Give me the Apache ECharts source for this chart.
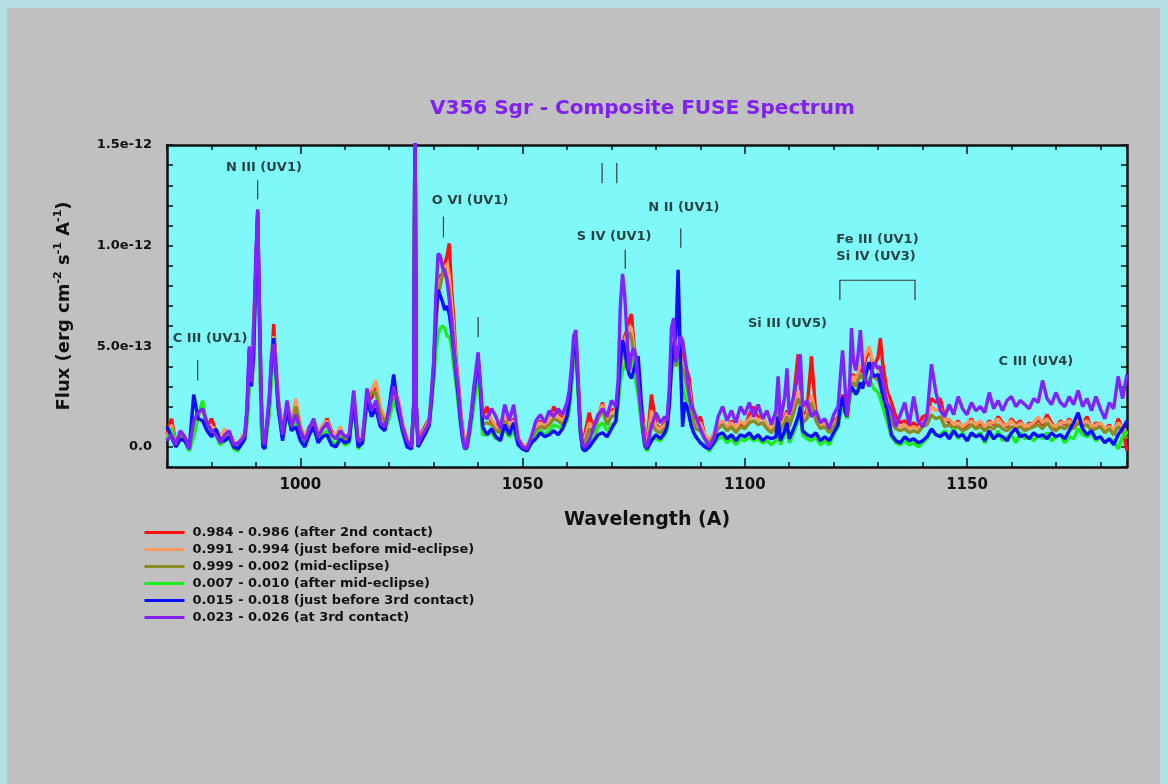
<!DOCTYPE html>
<html>
<head>
<meta charset="utf-8">
<script src="https://cdn.jsdelivr.net/npm/echarts@6/dist/echarts.min.js"></script>
<style>
html,body{margin:0;padding:0;}
body{width:1168px;height:784px;box-sizing:border-box;background:#c0c0c0;border-top:8px solid #b6dfe3;border-left:7px solid #b6dfe3;border-right:8px solid #b6dfe3;overflow:hidden;}
#chart{position:absolute;left:0;top:0;width:1168px;height:784px;}
</style>
</head>
<body>
<div id="chart"></div>
<script>
// Wavelength grid (Angstrom)
const wavelength = [
  970,971,972,973,974,975,976,977,978,979,980,981,982,983,984,985,986,987,
  987.5,988,988.5,989,989.5,990,990.4,990.8,991.2,991.6,992,993,993.5,994,994.5,995,996,
  997,998,999,1000,1001,1002,1003,1004,1005,1006,1007,1008,1009,1010,1011,1012,1013,1014,1015,1016,1017,1018,1019,1020,1021,1022,1023,1024,
  1025,1025.5,1025.8,1026.1,1026.5,1027,1028,1029,1029.5,1030,1030.5,1031,1031.5,1032,1032.5,1033,1033.5,1034,1034.5,1035,1035.5,1036,1036.5,1037,1037.5,1038,1038.5,1039,1039.5,1040,1040.5,1041,
  1042,1043,1044,1045,1046,1047,1048,1049,1050,1051,1052,1053,1054,1055,1056,1057,1058,1059,1060,
  1060.5,1061,1061.5,1062,1062.5,1063,1063.5,1064,1065,1066,1067,1068,1069,1070,1071,
  1071.5,1072,1072.5,1073,1073.5,1074,1074.5,1075,1075.5,1076,1076.5,1077,1077.5,1078,
  1079,1080,1081,1082,1082.5,1083,1083.5,1084,1084.5,1085,1085.5,1086,1086.5,1087,1087.5,1088,1088.5,1089,1090,
  1091,1092,1093,1094,1095,1096,1097,1098,1099,1100,1101,1102,1103,1104,1105,1106,1107,
  1107.5,1108,1109,1109.5,1110,1111,1112,1112.5,1113,1114,1115,1116,1117,1118,1119,
  1120,1121,1121.5,1122,1122.5,1123,1123.5,1124,1124.5,1125,1125.5,1126,1126.5,1127,1128,1129,1130,1130.5,1131,1132,1133,1134,1135,1136,1137,1138,1139,1140,1141,1142,1143,
  1144,1145,1146,1147,1148,1149,1150,1151,1152,1153,1154,1155,1156,1157,1158,1159,1160,1161,1162,1163,1164,1165,1166,1167,1168,1169,1170,1171,1172,1173,1174,1175,1176,1177,1178,1179,1180,1181,1182,1183,1184,1185,1186
];

// Flux in units of 1e-13 erg cm-2 s-1 A-1
const fluxRed = [
  0.6,1.4,0.2,0.5,0.4,0.0,0.8,1.6,2.0,1.0,1.4,0.8,0.4,0.6,0.7,0.2,0.0,0.5,
  0.6,1.5,3.5,4.0,6.1,9.0,11.6,6.5,1.5,0.3,0.2,2.0,4.0,6.1,4.2,2.4,0.8,
  2.0,1.2,2.2,1.0,0.4,1.0,1.2,0.6,1.0,1.4,0.8,0.5,0.9,0.4,0.5,2.5,0.2,0.5,2.5,2.4,3.0,1.5,1.3,1.6,2.5,2.0,1.1,0.4,
  0.1,2.0,17,2.0,0.2,0.6,1.0,1.4,2.6,4.0,6.5,8.0,8.5,8.6,9.1,9.5,10.1,7.9,6.5,4.5,3.3,2.0,0.9,0.2,0.2,0.9,1.7,2.7,3.6,4.3,3.0,1.4,
  2.0,1.2,1.1,0.8,1.4,1.0,1.4,0.4,0.1,0.0,0.5,0.9,1.3,1.0,1.2,2.0,1.6,1.4,1.8,
  2.3,3.6,5.0,5.4,3.2,0.9,0.2,0.6,1.7,0.8,1.5,2.2,1.2,1.8,1.9,
  2.8,4.2,5.0,5.5,5.8,6.3,6.6,5.3,4.2,3.6,2.5,1.7,0.6,0.2,
  2.6,1.1,0.9,1.2,1.3,2.5,4.5,5.2,4.6,5.0,4.8,4.4,4.2,3.8,3.4,2.4,1.6,1.2,1.5,
  0.6,0.3,0.6,1.0,1.2,0.9,1.3,0.8,1.2,1.0,1.6,2.0,1.4,1.6,1.0,0.8,1.2,
  2.5,0.9,1.5,1.8,1.2,2.5,4.6,3.0,1.5,1.8,4.5,1.6,1.0,1.3,0.8,
  1.2,1.5,2.0,2.6,2.2,1.8,2.8,3.5,3.6,3.3,3.6,4.0,3.7,4.2,4.9,3.9,4.5,5.4,4.2,2.8,2.2,1.5,1.2,1.3,1.0,1.2,1.0,1.5,1.6,2.4,2.2,
  2.4,1.4,1.2,1.0,1.3,0.9,1.1,1.4,1.0,1.2,0.9,1.3,1.1,1.5,1.2,1.0,1.4,1.1,1.3,0.9,1.2,1.0,1.4,1.1,1.6,1.2,0.9,1.3,1.1,1.4,1.0,1.3,1.1,1.5,0.9,1.2,1.0,0.8,1.1,0.6,1.4,0.9,-0.2
];
const fluxOrange = [
  0.5,1.1,0.2,0.6,0.5,0.0,0.7,1.5,2.1,1.1,1.0,0.9,0.5,0.9,0.6,0.3,0.1,0.6,
  0.6,1.4,3.3,3.8,5.6,8.8,11.4,6.3,1.4,0.3,0.2,1.9,3.8,5.5,4.0,2.3,0.9,
  1.9,1.3,2.4,1.1,0.5,0.9,1.3,0.7,1.1,1.3,0.7,0.6,1.0,0.5,0.6,2.3,0.3,0.6,2.4,2.8,3.3,2.0,1.4,1.7,2.6,2.5,1.2,0.5,
  0.1,2.0,17,2.0,0.2,0.5,0.9,1.3,2.5,3.9,6.5,8.0,8.3,8.5,8.9,9.1,8.5,7.2,5.8,4.2,3.0,1.8,0.8,0.1,0.1,0.8,1.6,2.6,3.5,4.2,2.9,1.4,
  1.6,1.4,1.0,0.9,1.5,1.1,1.3,0.5,0.1,0.0,0.6,1.0,1.2,1.1,1.3,1.7,1.5,1.3,1.7,
  2.2,3.4,4.8,5.2,3.1,0.9,0.2,0.4,1.2,0.9,1.6,2.1,1.3,1.7,1.8,
  2.7,4.0,4.8,5.3,5.6,6.0,5.9,5.0,4.0,3.4,2.2,1.3,0.4,0.1,
  1.8,1.0,0.9,1.1,1.2,2.3,4.2,4.9,4.3,4.7,4.5,4.1,3.9,3.4,2.9,2.0,1.4,1.1,1.2,
  0.6,0.3,0.7,1.1,1.3,1.0,1.2,0.9,1.3,1.1,1.4,1.6,1.3,1.5,1.1,0.9,1.2,
  2.2,1.0,1.4,1.7,1.2,2.0,2.8,2.4,1.4,1.6,2.6,1.5,1.1,1.2,0.9,
  1.1,1.4,1.9,2.5,2.1,1.7,2.7,3.4,3.5,3.3,3.7,4.1,4.0,4.5,5.0,4.0,3.9,3.6,3.2,2.4,1.6,1.2,1.0,1.1,0.9,1.0,0.9,1.2,1.4,2.0,1.8,
  1.9,1.3,1.4,1.1,1.2,1.0,1.2,1.3,1.1,1.3,1.0,1.2,1.2,1.4,1.1,1.1,1.3,1.0,1.2,1.0,1.1,1.2,1.5,1.2,1.4,1.1,1.0,1.2,1.2,1.3,1.1,1.4,1.2,1.3,1.0,1.1,1.2,0.9,1.0,0.8,1.2,1.0,0.6
];
const fluxOlive = [
  0.4,0.9,0.1,0.5,0.4,-0.1,0.6,1.5,2.2,1.0,0.8,0.7,0.3,0.5,0.5,0.1,0.0,0.4,
  0.5,1.3,3.1,3.5,5.2,8.5,11.2,6.0,1.2,0.1,0.0,1.8,3.6,4.8,3.7,2.1,0.6,
  1.8,1.1,2.0,0.9,0.3,0.8,1.1,0.5,0.9,1.1,0.6,0.4,0.8,0.3,0.4,2.2,0.1,0.4,2.3,2.7,2.7,1.7,1.2,1.5,2.4,2.0,1.0,0.3,
  0.0,2.0,17,2.0,0.1,0.4,0.8,1.2,2.4,3.7,6.0,7.6,8.0,8.6,8.9,8.2,7.8,6.5,5.4,3.9,2.8,1.6,0.6,0.0,0.0,0.7,1.5,2.5,3.3,4.0,2.7,1.1,
  1.2,1.1,0.8,0.7,1.3,0.9,1.1,0.3,0.0,-0.1,0.4,0.8,1.0,0.9,1.1,1.4,1.3,1.1,1.5,
  2.0,3.2,4.6,5.0,2.9,0.8,0.1,0.2,0.9,0.7,1.4,1.8,1.1,1.5,1.6,
  2.5,3.8,4.6,5.0,5.2,5.7,5.4,4.6,3.8,3.0,2.0,1.0,0.3,0.0,
  1.2,0.8,0.7,0.9,1.0,2.1,4.0,4.6,4.0,4.4,4.2,3.8,3.5,3.0,2.5,1.7,1.2,0.9,0.8,
  0.4,0.2,0.5,0.9,1.1,0.8,1.0,0.7,1.0,0.9,1.2,1.3,1.1,1.2,0.9,0.7,1.0,
  1.9,0.8,1.2,1.5,1.0,1.7,2.4,2.1,1.2,1.4,2.2,1.3,0.9,1.0,0.7,
  1.0,1.3,1.8,2.3,2.0,1.6,2.5,3.1,3.2,3.0,3.3,3.6,3.4,3.8,4.2,3.5,3.3,3.0,2.6,1.9,1.2,0.9,0.8,0.9,0.7,0.8,0.7,1.0,1.1,1.6,1.4,
  1.5,1.0,1.1,0.9,1.0,0.8,0.9,1.1,0.9,1.0,0.8,1.0,0.9,1.1,0.9,0.8,1.0,0.9,1.0,0.8,0.9,1.0,1.1,0.9,1.2,0.9,0.8,1.0,0.9,1.1,0.9,1.2,1.0,1.1,0.8,0.9,1.0,0.7,0.9,0.6,1.0,0.8,0.4
];
const fluxGreen = [
  0.4,0.9,0.0,0.4,0.3,-0.2,0.5,1.5,2.3,0.9,0.6,0.6,0.1,0.3,0.4,-0.1,-0.2,0.3,
  0.4,1.2,2.9,3.2,4.8,8.2,11.0,5.8,1.0,0.0,-0.1,1.6,3.4,4.5,3.5,1.9,0.4,
  1.6,0.8,1.4,0.6,0.1,0.6,0.9,0.3,0.6,0.8,0.3,0.1,0.5,0.1,0.2,2.1,-0.1,0.2,2.1,1.8,2.0,1.1,0.9,1.4,2.3,1.7,0.7,0.1,
  -0.1,2.0,17,2.0,0.0,0.3,0.6,1.0,2.1,3.2,4.8,5.6,5.9,6.0,5.9,5.5,5.5,5.0,4.0,3.2,2.2,1.2,0.4,-0.1,-0.1,0.5,1.2,2.0,2.8,3.5,2.4,0.6,
  0.6,0.7,0.4,0.4,0.9,0.5,0.8,0.1,-0.1,-0.2,0.2,0.5,0.8,0.6,0.8,1.1,1.0,0.9,1.3,
  1.8,3.0,4.4,4.8,2.7,0.6,-0.1,-0.1,0.4,0.4,1.0,1.2,0.8,1.1,1.2,
  2.0,3.2,3.8,4.0,4.4,4.6,4.3,3.8,3.2,2.6,1.6,0.7,0.0,-0.2,
  0.5,0.4,0.3,0.6,0.8,2.0,3.8,4.5,4.2,4.6,3.8,3.0,2.6,2.2,1.6,1.1,0.7,0.5,0.2,
  0.1,-0.2,0.1,0.4,0.5,0.2,0.4,0.1,0.4,0.3,0.5,0.3,0.4,0.2,0.3,0.1,0.3,
  1.3,0.1,0.6,1.0,0.2,0.7,1.3,1.6,0.6,0.4,0.3,0.5,0.1,0.3,0.1,
  0.6,1.0,1.6,2.1,1.7,1.4,2.2,2.8,2.9,2.6,2.9,3.2,3.0,3.3,3.4,2.9,2.7,2.4,2.0,1.3,0.5,0.2,0.1,0.3,0.1,0.2,0.0,0.2,0.4,0.8,0.6,
  0.6,0.8,0.5,0.9,0.4,0.7,0.3,0.6,0.5,0.7,0.2,0.6,0.4,0.8,0.3,0.5,0.6,0.2,0.7,0.4,0.5,0.3,0.6,0.4,0.7,0.3,0.5,0.6,0.2,0.5,0.4,0.9,0.6,0.5,0.7,0.3,0.5,0.2,0.4,0.3,-0.1,0.5,0.8
];
const fluxBlue = [
  1.0,0.5,0.0,0.4,0.3,-0.1,2.6,1.4,1.3,0.8,0.5,0.9,0.3,0.3,0.5,0.0,-0.1,0.2,
  0.4,1.8,4.8,3.0,4.5,9.0,11.7,6.8,2.5,0.0,-0.1,2.3,4.2,5.4,3.8,2.0,0.3,
  1.9,0.8,1.0,0.3,0.0,0.6,1.0,0.2,0.5,0.6,0.1,0.0,0.4,0.2,0.3,2.4,0.0,0.2,2.4,1.5,1.9,1.0,0.8,2.0,3.6,1.8,0.8,0.0,
  -0.1,2.0,17,2.0,0.0,0.2,0.6,1.1,2.3,3.8,6.5,7.8,7.5,7.2,6.8,7.0,6.6,5.8,4.8,3.6,2.6,1.3,0.4,-0.1,0.0,0.7,1.6,2.6,3.5,4.4,3.0,1.0,
  0.6,0.9,0.5,0.3,1.1,0.6,1.2,0.1,-0.1,-0.2,0.2,0.4,0.7,0.5,0.6,0.8,0.6,0.9,1.5,
  2.2,3.5,5.0,5.2,3.0,0.8,-0.1,-0.2,0.0,0.3,0.6,0.7,0.5,0.9,1.3,
  2.6,4.3,5.3,4.8,4.0,3.6,3.4,3.8,4.2,4.5,3.0,1.0,0.1,-0.1,
  0.3,0.6,0.4,0.7,1.0,2.0,4.0,5.0,5.5,8.8,4.5,1.0,2.2,2.0,1.5,1.0,0.7,0.5,0.2,
  0.0,-0.1,0.2,0.6,0.7,0.4,0.6,0.3,0.6,0.5,0.7,0.4,0.6,0.3,0.5,0.4,0.5,
  1.5,0.3,0.8,1.2,0.4,0.9,1.5,2.0,0.8,0.6,0.5,0.7,0.3,0.5,0.3,
  0.7,1.1,2.0,2.5,1.8,1.5,2.6,3.0,2.8,2.6,2.8,3.2,2.9,3.4,4.2,3.5,3.6,3.2,2.6,1.8,0.6,0.3,0.2,0.5,0.3,0.4,0.2,0.3,0.5,0.9,0.6,
  0.5,0.7,0.4,0.8,0.5,0.6,0.3,0.7,0.5,0.6,0.3,0.8,0.4,0.6,0.5,0.3,0.7,0.9,0.5,0.6,0.4,0.7,0.5,0.6,0.4,0.7,0.5,0.6,0.4,0.8,1.2,1.7,0.9,0.6,0.8,0.4,0.5,0.2,0.4,0.1,0.6,0.9,1.3
];
const fluxPurple = [
  0.3,0.6,0.1,0.8,0.5,-0.1,1.3,1.7,1.9,1.2,0.8,0.6,0.2,0.6,0.8,0.1,0.2,0.4,
  0.6,2.0,5.0,3.2,5.5,9.5,11.8,7.0,2.5,0.3,0.1,2.5,4.5,5.1,4.0,2.3,0.6,
  2.3,1.0,1.6,0.8,0.3,0.9,1.4,0.5,0.9,1.2,0.6,0.4,0.8,0.5,0.6,2.8,0.3,0.4,2.9,1.8,2.3,1.2,1.0,1.8,3.0,2.2,1.0,0.3,
  0.0,2.0,17,2.0,0.1,0.4,0.8,1.2,2.6,4.3,7.6,9.6,9.5,8.9,8.7,8.3,7.3,6.3,5.0,3.8,2.9,1.6,0.5,-0.1,0.0,0.8,1.8,2.9,3.8,4.7,3.2,1.6,
  1.4,1.9,1.5,0.9,2.1,1.3,2.1,0.4,0.0,-0.1,0.5,1.3,1.6,1.2,1.8,1.5,1.9,1.6,2.2,
  2.8,4.0,5.5,5.8,3.5,1.0,0.1,0.0,0.3,1.0,1.6,1.9,1.5,2.3,2.0,
  3.3,7.0,8.6,7.5,5.5,3.8,4.6,4.9,4.5,3.2,2.0,1.0,0.2,0.0,
  1.0,1.7,1.2,1.5,1.3,2.8,5.9,6.4,4.2,4.8,5.5,5.3,4.5,3.6,2.6,2.0,1.8,1.5,0.9,
  0.4,0.0,0.4,1.5,2.0,1.3,1.8,1.2,2.0,1.6,2.2,1.5,2.1,1.4,1.8,1.1,1.8,
  3.5,1.3,2.5,3.9,1.6,2.5,3.6,4.6,2.0,2.3,1.5,1.8,1.2,1.4,0.9,
  1.6,2.0,3.5,4.8,3.2,1.5,2.5,5.9,4.2,3.8,4.6,5.8,4.2,3.4,3.0,4.2,3.9,4.0,3.3,2.2,1.8,1.0,1.6,2.2,1.1,2.5,1.3,1.0,1.5,4.1,2.7,
  1.8,1.5,2.1,1.6,2.5,1.9,1.6,2.2,1.8,2.0,1.7,2.7,1.9,2.3,1.8,2.3,2.5,2.0,2.3,2.1,1.9,2.4,2.2,3.3,2.4,2.1,2.7,2.2,2.0,2.5,2.1,2.8,2.0,2.4,1.8,2.5,1.9,1.4,2.2,1.9,3.5,2.4,3.6
];

const seriesNames = [
  '0.984 - 0.986 (after 2nd contact)',
  '0.991 - 0.994 (just before mid-eclipse)',
  '0.999 - 0.002 (mid-eclipse)',
  '0.007 - 0.010 (after mid-eclipse)',
  '0.015 - 0.018 (just before 3rd contact)',
  '0.023 - 0.026 (at 3rd contact)'
];
const seriesColors = ['#ff1010', '#ff9a5e', '#8c8a24', '#1aee1a', '#0c0cff', '#8422ff'];
const seriesFlux = [fluxRed, fluxOrange, fluxOlive, fluxGreen, fluxBlue, fluxPurple];

const xLabelValues = [1000, 1050, 1100, 1150];
const yLabelValues = [0, 5, 10, 15];

// Line identifications [text, wavelength, flux(1e-13), align]
const lineLabels = [
  ['C III (UV1)', 979.7, 5.36, 'center'],
  ['N III (UV1)', 991.8, 13.89, 'center'],
  ['O VI (UV1)', 1038.2, 12.24, 'center'],
  ['S IV (UV1)', 1070.6, 10.46, 'center'],
  ['N II (UV1)', 1086.3, 11.91, 'center'],
  ['Si III (UV5)', 1109.6, 6.14, 'center'],
  ['Fe III (UV1)', 1120.6, 10.30, 'left'],
  ['Si IV (UV3)', 1120.6, 9.47, 'left'],
  ['C III (UV4)', 1165.5, 4.23, 'center']
];
// Marker ticks [wavelength, flux bottom, flux top]
const lineTicks = [
  [976.9, 3.3, 4.3],
  [990.4, 12.3, 13.25],
  [1032.2, 10.4, 11.45],
  [1040.0, 5.45, 6.45],
  [1067.9, 13.1, 14.1],
  [1071.2, 13.1, 14.1],
  [1073.1, 8.85, 9.8],
  [1085.6, 9.9, 10.85]
];
const bracketPts = [[1121.4, 7.29], [1121.4, 8.28], [1138.3, 8.28], [1138.3, 7.29]];

const FONT = "'DejaVu Sans', sans-serif";
const INK = '#111';

function yFmt(v) {
  if (v === 0) return '0.0';
  if (v >= 10) return (v / 10).toFixed(1) + 'e-12';
  return v.toFixed(1) + 'e-13';
}

const chart = echarts.init(document.getElementById('chart'), null, {renderer: 'canvas'});

const dataSeries = seriesNames.map((name, k) => ({
  name: name,
  type: 'line',
  xAxisIndex: 0,
  yAxisIndex: 0,
  symbol: 'none',
  silent: true,
  clip: true,
  lineStyle: {color: seriesColors[k], width: 3.4},
  itemStyle: {color: seriesColors[k]},
  data: wavelength.map((w, i) => [w, seriesFlux[k][i]]),
  z: 2 + k
}));

const tickSeries = {
  type: 'lines',
  coordinateSystem: 'cartesian2d',
  xAxisIndex: 0, yAxisIndex: 0,
  silent: true,
  z: 20,
  polyline: true,
  lineStyle: {color: '#3a3a3a', width: 1.2, opacity: 1},
  data: lineTicks.map(t => ({coords: [[t[0], t[1]], [t[0], t[2]]]})).concat([
    {coords: bracketPts}
  ])
};

const labelSeries = {
  type: 'scatter',
  xAxisIndex: 0, yAxisIndex: 0,
  silent: true,
  z: 21,
  symbolSize: 1,
  itemStyle: {color: 'rgba(0,0,0,0)'},
  data: lineLabels.map(l => ({
    value: [l[1], l[2]],
    label: {
      show: true,
      position: 'inside',
      formatter: l[0],
      align: l[3],
      verticalAlign: 'middle',
      color: INK,
      fontSize: 13,
      fontWeight: 'bold',
      fontFamily: FONT
    }
  }))
};

const axisLineStyle = {show: true, onZero: false, lineStyle: {color: INK, width: 2.5}};
const noLine = {show: false, onZero: false};

const option = {
  animation: false,
  backgroundColor: 'transparent',
  title: {
    text: 'V356 Sgr - Composite FUSE Spectrum',
    left: 430,
    top: 99,
    padding: 0,
    textStyle: {color: '#8020f2', fontSize: 20, fontWeight: 'bold', fontFamily: FONT}
  },
  legend: {
    orient: 'vertical',
    left: 143,
    top: 526,
    padding: 0,
    itemWidth: 40,
    itemHeight: 14,
    itemGap: 4,
    align: 'left',
    data: seriesNames,
    itemStyle: {opacity: 0},
    lineStyle: {width: 3},
    textStyle: {color: INK, fontSize: 13, fontWeight: 'bold', fontFamily: FONT, padding: [0, 0, 0, 3]}
  },
  grid: {
    left: 167, top: 145, width: 960, height: 322,
    show: true,
    backgroundColor: '#7ff8fa',
    borderWidth: 0,
    containLabel: false
  },
  xAxis: [
    {
      type: 'value', position: 'bottom', min: 970, max: 1186, interval: 10,
      axisLine: axisLineStyle,
      axisTick: {show: true, inside: true, length: 5, lineStyle: {color: INK, width: 1.5}},
      splitLine: {show: false},
      axisLabel: {
        show: true, customValues: xLabelValues, margin: 11,
        formatter: v => String(v),
        color: INK, fontSize: 15, fontWeight: 'bold', fontFamily: FONT
      },
      name: 'Wavelength (A)',
      nameLocation: 'middle',
      nameGap: 44,
      nameTextStyle: {color: INK, fontSize: 19, fontWeight: 'bold', fontFamily: FONT}
    },
    {
      type: 'value', position: 'bottom', min: 970, max: 1186, interval: 10,
      axisLine: noLine,
      axisTick: {show: true, inside: true, length: 9, customValues: xLabelValues, lineStyle: {color: INK, width: 1.5}},
      axisLabel: {show: false},
      splitLine: {show: false}
    },
    {
      type: 'value', position: 'top', min: 970, max: 1186, interval: 10,
      axisLine: axisLineStyle,
      axisTick: {show: true, inside: true, length: 5, lineStyle: {color: INK, width: 1.5}},
      axisLabel: {show: false},
      splitLine: {show: false}
    },
    {
      type: 'value', position: 'top', min: 970, max: 1186, interval: 10,
      axisLine: noLine,
      axisTick: {show: true, inside: true, length: 9, customValues: xLabelValues, lineStyle: {color: INK, width: 1.5}},
      axisLabel: {show: false},
      splitLine: {show: false}
    }
  ],
  yAxis: [
    {
      type: 'value', position: 'left', min: -1, max: 15, interval: 1,
      axisLine: axisLineStyle,
      axisTick: {show: true, inside: true, length: 6, lineStyle: {color: INK, width: 1.5}},
      splitLine: {show: false},
      axisLabel: {
        show: true, customValues: yLabelValues, formatter: yFmt, margin: 15,
        color: INK, fontSize: 13, fontWeight: 'bold', fontFamily: FONT
      },
      name: 'Flux (erg cm{s|-2} s{s|-1} A{s|-1})',
      nameLocation: 'middle',
      nameRotate: 90,
      nameGap: 92,
      nameTextStyle: {
        color: INK, fontSize: 18, fontWeight: 'bold', fontFamily: FONT,
        rich: {
          s: {fontSize: 11, fontWeight: 'bold', fontFamily: FONT, color: INK, verticalAlign: 'top', lineHeight: 22}
        }
      }
    },
    {
      type: 'value', position: 'right', min: -1, max: 15, interval: 1,
      axisLine: axisLineStyle,
      axisTick: {show: true, inside: true, length: 6, lineStyle: {color: INK, width: 1.5}},
      axisLabel: {show: false},
      splitLine: {show: false}
    }
  ],
  series: dataSeries.concat([tickSeries, labelSeries])
};

chart.setOption(option);
</script>
</body>
</html>
